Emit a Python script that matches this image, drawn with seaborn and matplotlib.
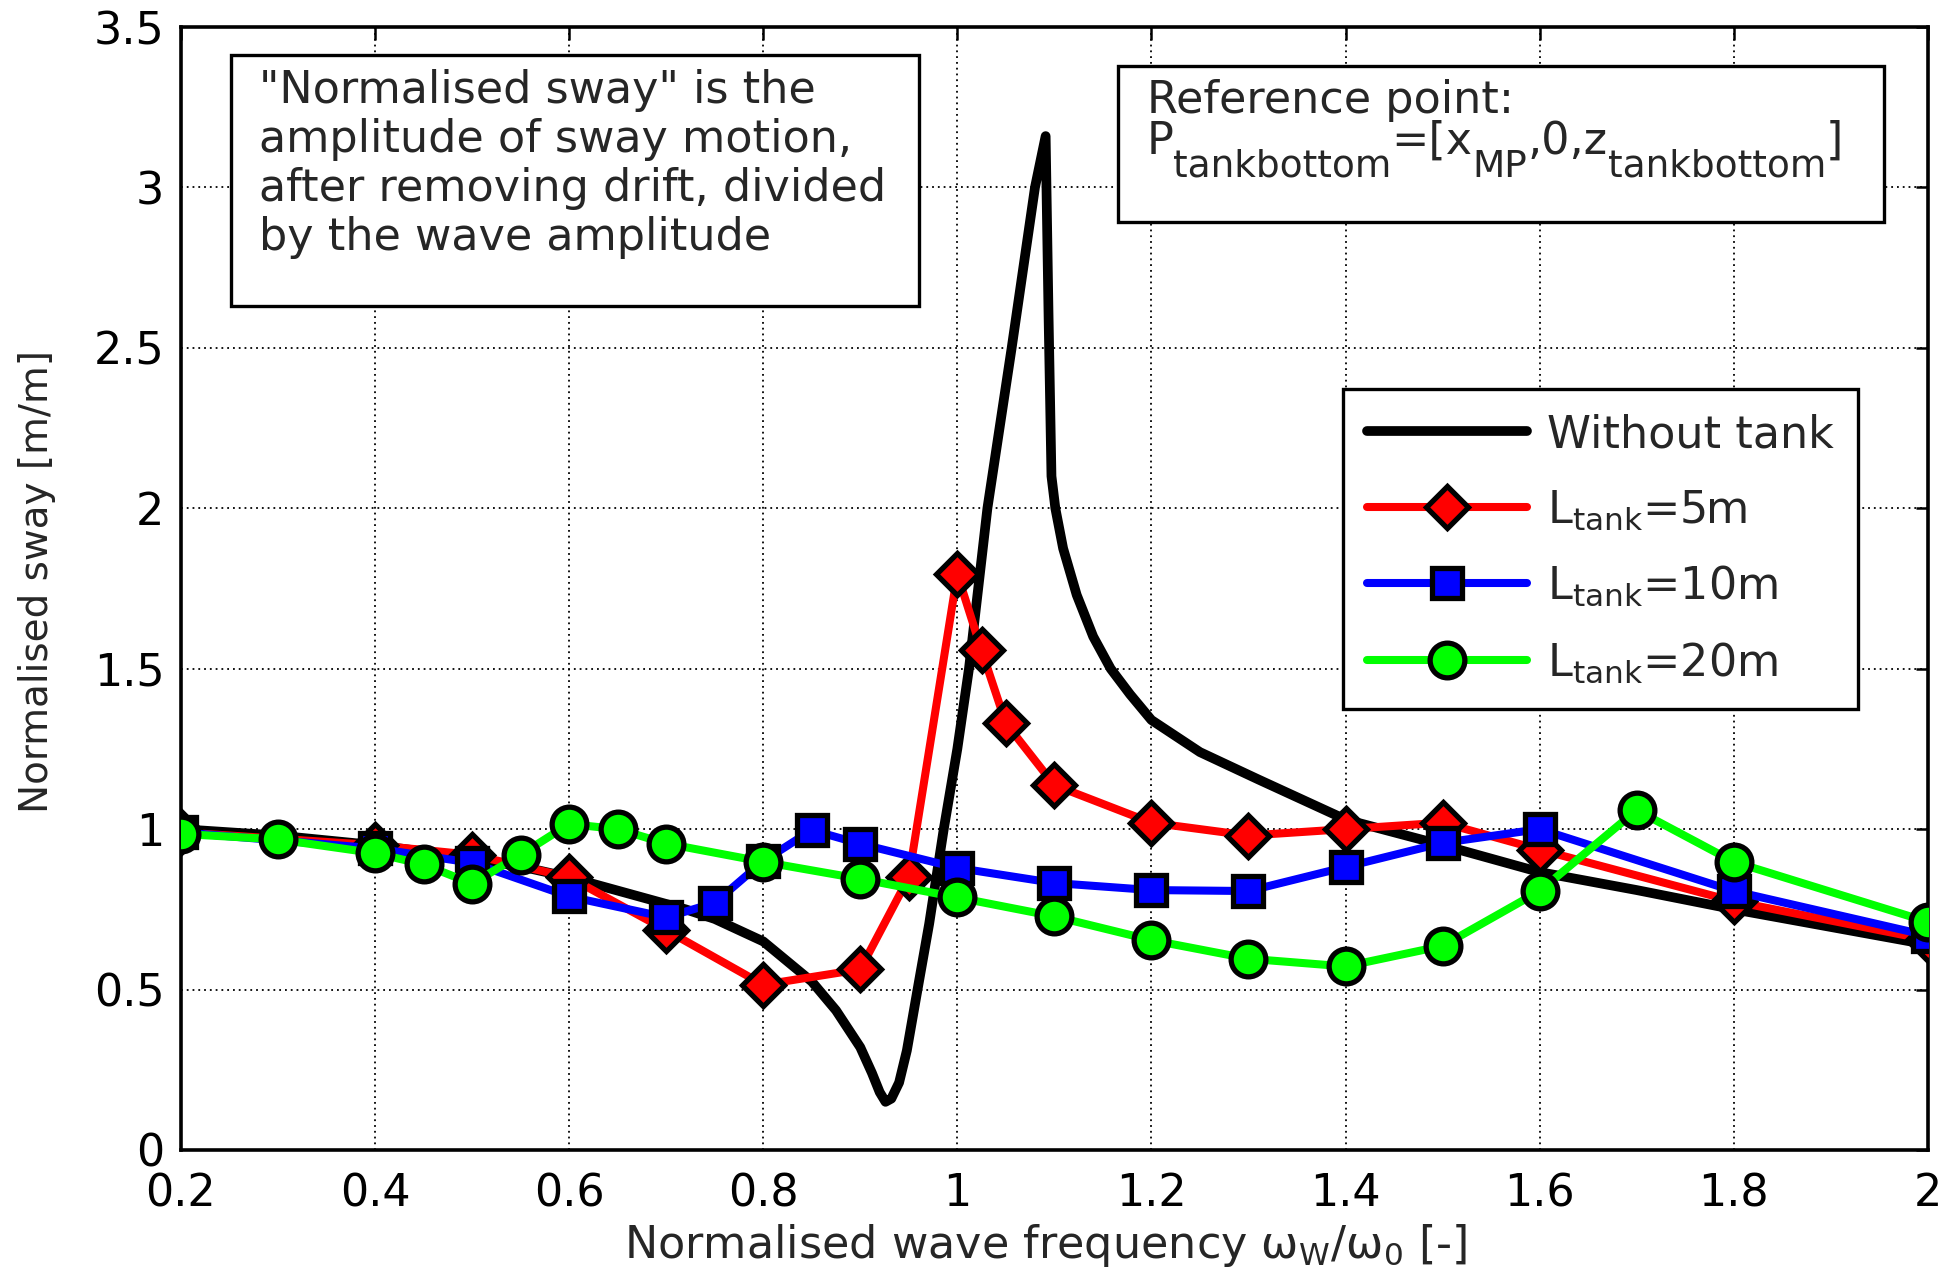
import matplotlib
matplotlib.use("Agg")
import matplotlib.pyplot as plt
from matplotlib.patches import Rectangle
from matplotlib.transforms import offset_copy
import pandas as pd
import seaborn as sns

# ---------------- data ----------------
# Normalised sway response of the vessel without an anti-roll tank
freq_bare = [0.2, 0.3, 0.4, 0.5, 0.56, 0.6, 0.66, 0.72, 0.75, 0.8, 0.82, 0.85,
             0.875, 0.9, 0.912, 0.92, 0.926, 0.932, 0.94, 0.948, 0.959, 0.971,
             0.986, 1.0, 1.012, 1.031, 1.056, 1.08, 1.091, 1.094, 1.097, 1.101,
             1.109, 1.123, 1.14, 1.158, 1.178, 1.2, 1.25, 1.31, 1.4, 1.5, 1.6,
             1.7, 1.8, 1.9, 2.0]
sway_bare = [1.0, 0.98, 0.95, 0.91, 0.877, 0.85, 0.80, 0.75, 0.72, 0.65, 0.60,
             0.525, 0.435, 0.32, 0.24, 0.18, 0.15, 0.16, 0.21, 0.31, 0.50,
             0.705, 1.0, 1.25, 1.5, 2.0, 2.5, 3.0, 3.16, 2.6, 2.1, 2.0, 1.875,
             1.73, 1.6, 1.5, 1.42, 1.34, 1.24, 1.155, 1.03, 0.95, 0.866, 0.81,
             0.75, 0.695, 0.64]

# Tank length 5 m
freq_5m = [0.2, 0.4, 0.5, 0.6, 0.7, 0.8, 0.9, 0.95, 1.0, 1.025, 1.05, 1.1, 1.2,
           1.3, 1.4, 1.5, 1.6, 1.8, 2.0]
sway_5m = [0.99, 0.95, 0.92, 0.85, 0.685, 0.515, 0.563, 0.85, 1.795, 1.557,
           1.33, 1.137, 1.02, 0.98, 1.0, 1.02, 0.936, 0.775, 0.655]

# Tank length 10 m
freq_10m = [0.2, 0.4, 0.5, 0.6, 0.7, 0.75, 0.8, 0.85, 0.9, 1.0, 1.1, 1.2, 1.3,
            1.4, 1.5, 1.6, 1.8, 2.0]
sway_10m = [0.99, 0.94, 0.895, 0.79, 0.725, 0.77, 0.90, 0.997, 0.954, 0.879,
            0.832, 0.81, 0.807, 0.882, 0.957, 1.0, 0.807, 0.668]

# Tank length 20 m
freq_20m = [0.2, 0.3, 0.4, 0.45, 0.5, 0.55, 0.6, 0.65, 0.7, 0.8, 0.9, 1.0, 1.1,
            1.2, 1.3, 1.4, 1.5, 1.6, 1.7, 1.8, 2.0]
sway_20m = [0.985, 0.968, 0.925, 0.89, 0.83, 0.92, 1.016, 1.0, 0.955, 0.898,
            0.845, 0.787, 0.728, 0.654, 0.596, 0.572, 0.636, 0.807, 1.059,
            0.898, 0.711]

series_labels = ["Without tank", r"L$_{tank}$=5m", r"L$_{tank}$=10m",
                 r"L$_{tank}$=20m"]

x_ticks = [0.2, 0.4, 0.6, 0.8, 1.0, 1.2, 1.4, 1.6, 1.8, 2.0]
x_tick_labels = ["0.2", "0.4", "0.6", "0.8", "1", "1.2", "1.4", "1.6", "1.8", "2"]
y_ticks = [0, 0.5, 1.0, 1.5, 2.0, 2.5, 3.0, 3.5]
y_tick_labels = ["0", "0.5", "1", "1.5", "2", "2.5", "3", "3.5"]

note_lines = ['"Normalised sway" is the',
              "amplitude of sway motion,",
              "after removing drift, divided",
              "by the wave amplitude"]

# ---------------- style ----------------
sns.set_style("white")
plt.rcParams["font.family"] = ["DejaVu Sans"]
plt.rcParams["mathtext.default"] = "regular"
FS = 32

fig = plt.figure(figsize=(19.54, 12.8), dpi=100)
ax = fig.add_axes([0.0926, 0.1016, 0.894, 0.8773])

df_bare = pd.DataFrame({"freq": freq_bare, "sway": sway_bare})
df_5 = pd.DataFrame({"freq": freq_5m, "sway": sway_5m})
df_10 = pd.DataFrame({"freq": freq_10m, "sway": sway_10m})
df_20 = pd.DataFrame({"freq": freq_20m, "sway": sway_20m})

marker_kw = dict(markeredgecolor="black", markeredgewidth=3.8)
sns.lineplot(data=df_bare, x="freq", y="sway", ax=ax, color="black",
             linewidth=7.0, errorbar=None, label=series_labels[0], zorder=3)
sns.lineplot(data=df_5, x="freq", y="sway", ax=ax, color="#ff0000",
             linewidth=5.8, errorbar=None, label=series_labels[1],
             marker="D", markersize=21, markerfacecolor="#ff0000",
             zorder=4, **marker_kw)
sns.lineplot(data=df_10, x="freq", y="sway", ax=ax, color="#0000ff",
             linewidth=5.8, errorbar=None, label=series_labels[2],
             marker="s", markersize=21, markerfacecolor="#0000ff",
             zorder=5, **marker_kw)
sns.lineplot(data=df_20, x="freq", y="sway", ax=ax, color="#00ff00",
             linewidth=5.8, errorbar=None, label=series_labels[3],
             marker="o", markersize=25, markerfacecolor="#00ff00",
             zorder=6, **marker_kw)

# ---------------- axes ----------------
ax.set_xlim(0.2, 2.0)
ax.set_ylim(0, 3.5)
ax.set_xticks(x_ticks)
ax.set_xticklabels(x_tick_labels)
ax.set_yticks(y_ticks)
ax.set_yticklabels(y_tick_labels)
ax.tick_params(axis="both", which="both", direction="in", top=True,
               right=True, length=9, width=1.8, colors="black",
               labelsize=FS)
ax.tick_params(axis="x", pad=16)
ax.tick_params(axis="y", pad=12)
for sp in ax.spines.values():
    sp.set_visible(True)
    sp.set_color("black")
    sp.set_linewidth(2.6)
ax.grid(True, color="black", linestyle=(0, (1, 2.2)), linewidth=1.3)
ax.set_axisbelow(True)

ax.set_xlabel(r"Normalised wave frequency ω$_{W}$/ω$_{0}$ [-]", fontsize=FS,
              va="baseline")
ax.xaxis.set_label_coords(0.495, -0.096)
ax.set_ylabel("Normalised sway [m/m]", fontsize=28, va="center")
ax.yaxis.set_label_coords(-0.0824, 0.506)

# ---------------- legend ----------------
handles, labels = ax.get_legend_handles_labels()
leg = ax.legend(handles, labels, loc="upper left",
                bbox_to_anchor=(0.665, 0.678), borderaxespad=0,
                fontsize=FS, handlelength=3.6, handletextpad=0.45,
                labelspacing=0.72, borderpad=0.55, fancybox=False,
                framealpha=1, edgecolor="black")
leg.get_frame().set_linewidth(2.4)
leg.set_zorder(10)

# ---------------- annotation boxes ----------------
ax.add_patch(Rectangle((0.252, 2.63), 0.961 - 0.252, 3.414 - 2.63,
                       facecolor="white", edgecolor="black", linewidth=2.4,
                       zorder=8))
for i, line in enumerate(note_lines):
    ax.text(0.28, 3.264 - i * 0.153, line, fontsize=FS, va="baseline",
            ha="left", zorder=9)

ax.add_patch(Rectangle((1.166, 2.891), 1.955 - 1.166, 3.378 - 2.891,
                       facecolor="white", edgecolor="black", linewidth=2.4,
                       zorder=8))
ax.text(1.195, 3.233, "Reference point:", fontsize=FS, va="baseline",
        ha="left", zorder=9)

# second line of the reference-point box, built from text pieces so the
# subscripts can be sized independently of the main text
pieces = [("P", False), ("tankbottom", True), ("=[x", False), ("MP", True),
          (",0,z", False), ("tankbottom", True), ("]", False)]
renderer = fig.canvas.get_renderer()
dx = 0.0
for txt, is_sub in pieces:
    tr = offset_copy(ax.transData, fig=fig, x=dx, y=-23 if is_sub else 0,
                     units="dots")
    t = ax.text(1.195, 3.105, txt, fontsize=27 if is_sub else FS,
                va="baseline", ha="left", transform=tr, zorder=9)
    dx += t.get_window_extent(renderer=renderer).width

fig.savefig("out.png", dpi=100, facecolor="white")
